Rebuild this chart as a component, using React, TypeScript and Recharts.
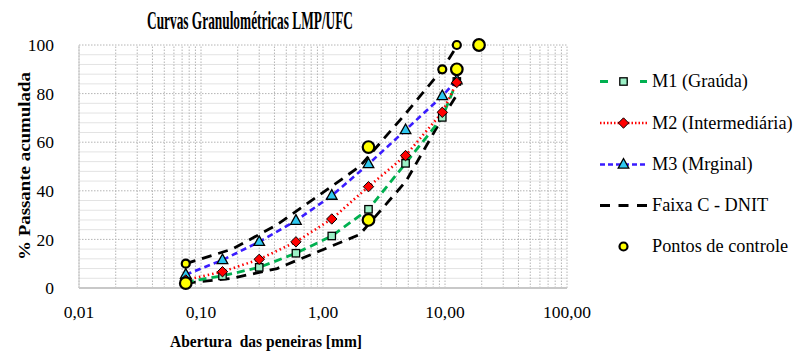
import React from 'react';
import { ComposedChart, Line, Scatter, XAxis, YAxis, ReferenceLine } from 'recharts';

// Superpave sieve openings (mm) used for the blends
const sieves = [0.075, 0.15, 0.3, 0.6, 1.18, 2.36, 4.75, 9.5, 12.5];
const m1Values = [2.5, 5, 8.5, 14.3, 21.4, 32.4, 51.3, 70.2, 85];
const m2Values = [3.3, 6.7, 11.8, 19, 28.4, 41.7, 54.5, 72.3, 84.6];
const m3Values = [5.5, 11.5, 19, 27.7, 38, 51, 65, 79, 85.5];

// DNIT Faixa C envelope
const dnitSieves = [0.075, 0.18, 0.42, 2.0, 4.8, 9.5, 12.7];
const faixaUpper = [10, 16, 26, 50, 72, 90, 100];
const faixaLower = [2, 4, 8, 22, 44, 70, 80];

// Control points
const ctrlLargeX = [0.075, 2.36, 2.36, 12.5, 19];
const ctrlLargeY = [2, 28, 58, 90, 100];
const ctrlSmallX = [0.075, 9.5, 12.5];
const ctrlSmallY = [10, 90, 100];

const xTicks = [0.01, 0.1, 1, 10, 100];
const yTicks = [0, 20, 40, 60, 80, 100];

const legendLabels = ['M1 (Graúda)', 'M2 (Intermediária)', 'M3 (Mrginal)', 'Faixa C - DNIT', 'Pontos de controle'];

const zip = (xs: number[], ys: number[]) => xs.map((x, i) => ({ x, y: ys[i] }));

const m1Data = zip(sieves, m1Values);
const m2Data = zip(sieves, m2Values);
const m3Data = zip(sieves, m3Values);
const upperData = zip(dnitSieves, faixaUpper);
const lowerData = zip(dnitSieves, faixaLower);
const ctrlLarge = zip(ctrlLargeX, ctrlLargeY);
const ctrlSmall = zip(ctrlSmallX, ctrlSmallY);

// grid positions
const logGrid: number[] = [];
[0.01, 0.1, 1, 10].forEach((d) => {
  for (let k = 1; k <= 9; k++) logGrid.push(+(d * k).toPrecision(3));
});
logGrid.push(100);
const hMinor: number[] = [];
for (let v = 4; v < 100; v += 4) if (v % 20 !== 0) hMinor.push(v);
const hMajor = [20, 40, 60, 80, 100];

const FONT = 'Liberation Serif, DejaVu Serif, serif';

const COLORS = {
  m1: '#00b050',
  m1Fill: '#9cf0c6',
  m2: '#ff0000',
  m3: '#3a1cff',
  m3Fill: '#2ec8f0',
  faixa: '#000000',
  ctrl: '#ffff00',
};

const squareShape = (cx: number, cy: number, key?: string) => (
  <rect key={key} x={cx - 3.7} y={cy - 3.7} width={7.4} height={7.4} fill={COLORS.m1Fill} stroke="#000" strokeWidth={1.3} />
);
const diamondShape = (cx: number, cy: number, key?: string) => (
  <path key={key} d={`M${cx},${cy - 5.2} L${cx + 5.2},${cy} L${cx},${cy + 5.2} L${cx - 5.2},${cy} Z`} fill={COLORS.m2} stroke="#000" strokeWidth={1} />
);
const triangleShape = (cx: number, cy: number, key?: string) => (
  <path key={key} d={`M${cx},${cy - 6} L${cx + 5.3},${cy + 3.6} L${cx - 5.3},${cy + 3.6} Z`} fill={COLORS.m3Fill} stroke="#000" strokeWidth={1.3} />
);

const mkDot = (fn: (cx: number, cy: number, key?: string) => React.ReactElement, tag: string) => (props: any) => {
  const { cx, cy, index } = props;
  if (cx == null || cy == null) return <g key={`${tag}-e-${index}`} />;
  return fn(cx, cy, `${tag}-${index}`);
};

const circleShape = (r: number) => (props: any) => {
  const { cx, cy } = props;
  if (cx == null || cy == null) return <g />;
  return <circle cx={cx} cy={cy} r={r} fill={COLORS.ctrl} stroke="#000" strokeWidth={2.2} />;
};

const fmtX = (v: number) => v.toFixed(2).replace('.', ',');

const txt = { fontFamily: FONT } as React.CSSProperties;

export default function App() {
  const legendBase = [87, 128.5, 170, 211, 252];
  return (
    <div style={{ position: 'absolute', left: 0, top: 0, width: 795, height: 351, background: '#fff', fontFamily: FONT }}>
      <ComposedChart width={795} height={351} margin={{ top: 45, right: 228, bottom: 33, left: 0 }} style={{ fontFamily: FONT }}>
        {hMinor.map((v) => (
          <ReferenceLine key={`hm${v}`} y={v} stroke="#e3e3e3" strokeWidth={1} />
        ))}
        {logGrid.map((v) => (
          <ReferenceLine key={`vg${v}`} x={v} stroke="#b4b4b4" strokeWidth={1} strokeDasharray="1.5 1.5" />
        ))}
        {hMajor.map((v) => (
          <ReferenceLine key={`hM${v}`} y={v} stroke="#b4b4b4" strokeWidth={1} strokeDasharray="1.5 1.5" />
        ))}
        <XAxis
          type="number"
          dataKey="x"
          scale="log"
          domain={[0.01, 100]}
          ticks={xTicks}
          tickFormatter={fmtX}
          allowDataOverflow
          height={30}
          tickSize={0}
          tickMargin={18}
          axisLine={{ stroke: '#c8c8c8', strokeWidth: 2 }}
          tick={{ fill: '#000', fontSize: 17.5, fontFamily: FONT, style: txt }}
        />
        <YAxis
          type="number"
          dataKey="y"
          domain={[0, 100]}
          ticks={yTicks}
          width={79}
          tickSize={0}
          tickMargin={25}
          axisLine={{ stroke: '#c8c8c8', strokeWidth: 1 }}
          tick={{ fill: '#000', fontSize: 17.5, fontFamily: FONT, style: txt }}
        />
        <Line data={upperData} dataKey="y" type="linear" stroke={COLORS.faixa} strokeWidth={2.8} strokeDasharray="10 7" dot={false} isAnimationActive={false} />
        <Line data={lowerData} dataKey="y" type="linear" stroke={COLORS.faixa} strokeWidth={2.8} strokeDasharray="10 7" dot={false} isAnimationActive={false} />
        <Line data={m1Data} dataKey="y" type="linear" stroke={COLORS.m1} strokeWidth={2.8} strokeDasharray="8 5" dot={mkDot(squareShape, 'm1')} isAnimationActive={false} />
        <Line data={m3Data} dataKey="y" type="linear" stroke={COLORS.m3} strokeWidth={2.6} strokeDasharray="6 4" dot={mkDot(triangleShape, 'm3')} isAnimationActive={false} />
        <Line data={m2Data} dataKey="y" type="linear" stroke={COLORS.m2} strokeWidth={2.6} strokeDasharray="1.5 3" dot={mkDot(diamondShape, 'm2')} isAnimationActive={false} />
        <Scatter data={ctrlSmall} dataKey="y" shape={circleShape(4)} isAnimationActive={false} />
        <Scatter data={ctrlLarge} dataKey="y" shape={circleShape(5.8)} isAnimationActive={false} />
      </ComposedChart>
      <svg width={795} height={351} style={{ position: 'absolute', left: 0, top: 0, pointerEvents: 'none', fontFamily: FONT }}>
        <text x={250} y={29} textAnchor="middle" style={txt} fontWeight="bold" fontSize={25} textLength={206} lengthAdjust="spacingAndGlyphs">
          Curvas Granulométricas  LMP/UFC
        </text>
        <text transform="translate(30,166) rotate(-90)" textAnchor="middle" style={txt} fontWeight="bold" fontSize={17} textLength={188} lengthAdjust="spacingAndGlyphs">
          % Passante acumulada
        </text>
        <text x={266} y={347} textAnchor="middle" style={{ ...txt, whiteSpace: 'pre' }} fontWeight="bold" fontSize={17} textLength={192} lengthAdjust="spacingAndGlyphs">
          Abertura  das peneiras [mm]
        </text>
        {legendLabels.map((lab, i) => {
          const base = legendBase[i];
          const cy = base - 5.5;
          let icon: React.ReactNode = null;
          if (i === 0)
            icon = (
              <g>
                <line x1={600} x2={647} y1={cy} y2={cy} stroke={COLORS.m1} strokeWidth={2.8} strokeDasharray="8 12" />
                {squareShape(623.5, cy)}
              </g>
            );
          else if (i === 1)
            icon = (
              <g>
                <line x1={600} x2={647} y1={cy} y2={cy} stroke={COLORS.m2} strokeWidth={2.5} strokeDasharray="1.5 2" />
                {diamondShape(623.5, cy)}
              </g>
            );
          else if (i === 2)
            icon = (
              <g>
                <line x1={600} x2={647} y1={cy} y2={cy} stroke={COLORS.m3} strokeWidth={2.5} strokeDasharray="5 3" />
                {triangleShape(623.5, cy)}
              </g>
            );
          else if (i === 3)
            icon = <line x1={600} x2={647} y1={cy} y2={cy} stroke="#000" strokeWidth={2.8} strokeDasharray="10 8.5" />;
          else icon = <circle cx={623.5} cy={cy} r={4} fill={COLORS.ctrl} stroke="#000" strokeWidth={2.2} />;
          return (
            <g key={lab}>
              {icon}
              <text x={652} y={base} style={txt} fontSize={18.3} fill="#000">
                {lab}
              </text>
            </g>
          );
        })}
      </svg>
    </div>
  );
}
